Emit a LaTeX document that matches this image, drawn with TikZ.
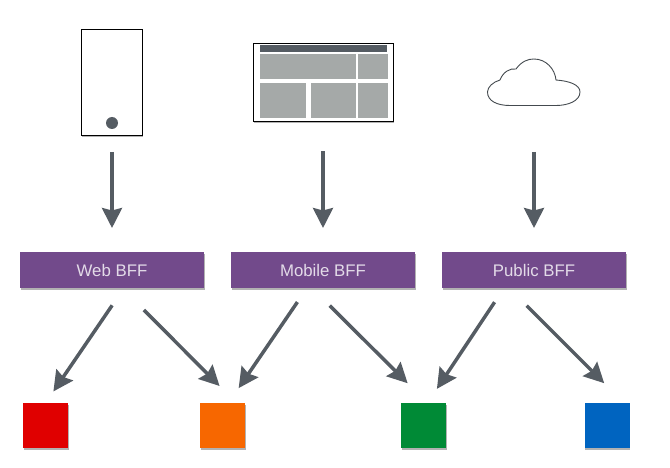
\documentclass[tikz,border=0pt]{standalone}
\usepackage{fontspec}
\setmainfont{Liberation Sans}
\definecolor{bffpurple}{HTML}{724A8B}
\definecolor{arrgrey}{HTML}{555C63}
\definecolor{panelgrey}{HTML}{A5A9A8}
\definecolor{svcred}{HTML}{E00000}
\definecolor{svcorange}{HTML}{F76700}
\definecolor{svcgreen}{HTML}{008A36}
\definecolor{svcblue}{HTML}{0064C0}
\usetikzlibrary{arrows.meta,positioning,shadows}

\begin{document}
\begin{tikzpicture}[
  x=1pt,y=-1pt,
  softshadow/.style={drop shadow={shadow xshift=0.6pt,shadow yshift=-1.6pt,opacity=0.3,fill=black}},
  device/.style={draw=black,fill=white,line width=0.9pt,inner sep=0pt,outer sep=0pt,softshadow},
  panel/.style={fill=panelgrey,draw=none},
  bff/.style={fill=bffpurple,text=white!80!bffpurple,minimum width=184pt,minimum height=36pt,inner sep=0pt,outer sep=0pt,
    font=\fontsize{16.8}{20}\selectfont,softshadow},
  svc/.style={minimum size=45pt,inner sep=0pt,outer sep=0pt,softshadow},
  arr/.style={-{Stealth[length=20pt,width=20pt,inset=2.5pt]},arrgrey,line width=3.5pt}]
\useasboundingbox (0,0) rectangle (670,468);
% clients
\node[device,minimum width=61pt,minimum height=106pt] (phone) at (112,82) {};
\fill[arrgrey] (112,123) circle[radius=6];
\node[device,minimum width=140pt,minimum height=78pt] (browser) at (323,82.5) {};
\fill[arrgrey] (260,45) rectangle (386.5,52);
\fill[panel] (260,54.5) rectangle (356,79.5);
\fill[panel] (358,54.5) rectangle (388,79.5);
\fill[panel] (260,83) rectangle (306,118);
\fill[panel] (311,83) rectangle (356,118);
\fill[panel] (358,83) rectangle (388,118);
\node[minimum width=93pt,minimum height=47pt,inner sep=0pt,outer sep=0pt] (cloud) at (534,82.5) {};
\draw[line width=0.9pt,arrgrey!80!black,fill=white] (500,80)
  .. controls (503,72) and (510,68) .. (516,69)
  .. controls (522,61) and (528,59) .. (534,59)
  .. controls (546,59) and (555,69) .. (556,80)
  .. controls (570,81) and (580,85) .. (580,92)
  .. controls (580,101) and (568,105.5) .. (556,105.5)
  -- (510,105.5)
  .. controls (497,105.5) and (487.5,101) .. (487.5,92)
  .. controls (487.5,87) and (493,82) .. (500,80) -- cycle;
% backends for frontends
\node[bff] (web) at (112,270) {Web BFF};
\node[bff,right=27pt of web] (mobile) {Mobile BFF};
\node[bff,right=27pt of mobile] (public) {Public BFF};
% services
\node[svc,fill=svcred] (red) at (45.5,425.5) {};
\node[svc,fill=svcorange] (orange) at (222.5,425.5) {};
\node[svc,fill=svcgreen] (green) at (423.5,425.5) {};
\node[svc,fill=svcblue] (blue) at (607,425.5) {};
\draw[arr,shorten <=17pt,shorten >=24pt] (phone.south) -- (web.north);
\draw[arr,shorten <=30pt,shorten >=24pt] (browser.south) -- (mobile.north);
\draw[arr,shorten <=46pt,shorten >=24pt] (cloud.south) -- (public.north);
\draw[arr,shorten <=21pt,shorten >=14pt] ([xshift=12pt]web.south) -- (red.north);
\draw[arr,shorten <=31pt,shorten >=24pt] ([xshift=10pt]web.south) -- ([xshift=14pt]orange.north);
\draw[arr,shorten <=17pt,shorten >=18pt] ([xshift=-16pt]mobile.south) -- ([xshift=6pt]orange.north);
\draw[arr,shorten <=25pt,shorten >=28pt] ([xshift=-11pt]mobile.south) -- ([xshift=4pt]green.north);
\draw[arr,shorten <=17pt,shorten >=17pt] ([xshift=-30pt]public.south) -- ([xshift=4pt]green.north);
\draw[arr,shorten <=25pt,shorten >=28pt] ([xshift=-25pt]public.south) -- ([xshift=17pt]blue.north);
\end{tikzpicture}
\end{document}
